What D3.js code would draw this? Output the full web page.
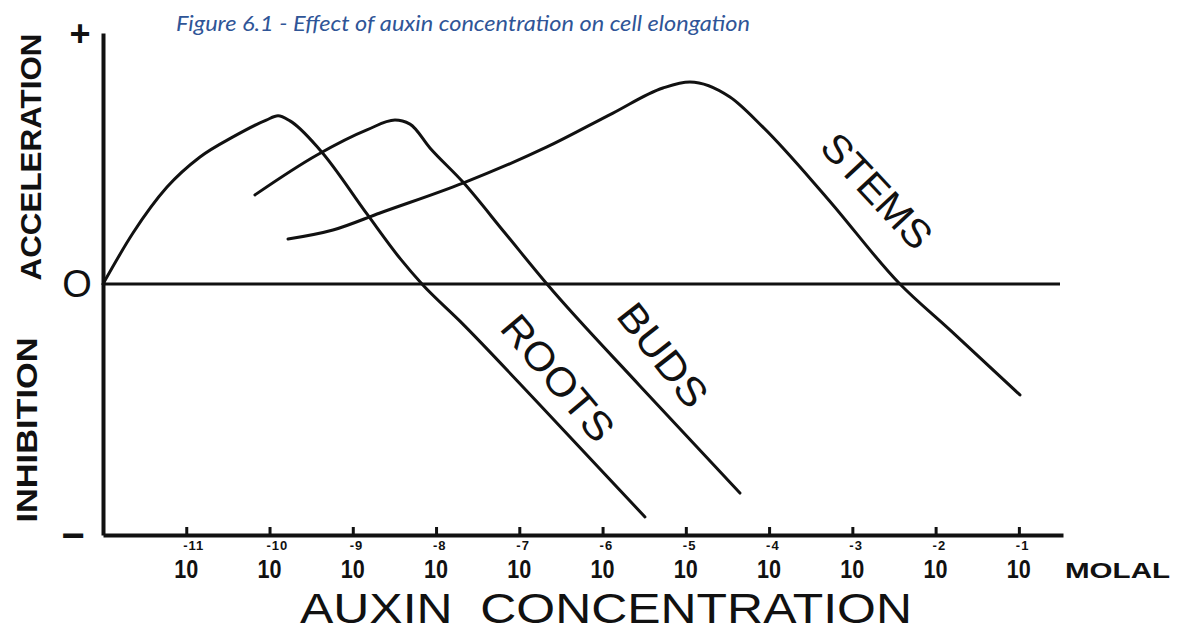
<!DOCTYPE html>
<html>
<head>
<meta charset="utf-8">
<script src="https://cdn.jsdelivr.net/npm/d3@7"></script>
<style>
  body { margin: 0; background: #fff; }
  svg { display: block; }
  .curve { fill: none; stroke: #111; stroke-width: 3; stroke-linejoin: round; stroke-linecap: round; }
  .lbl { font-family: "Liberation Sans", Arial, sans-serif; fill: #111; }
</style>
</head>
<body>
<div id="chart"></div>
<script>
// log10 of auxin concentration (molal) vs response (+ acceleration / - inhibition)
const exponents = [-11, -10, -9, -8, -7, -6, -5, -4, -3, -2, -1];

const rootsConc = [-12, -11.64, -11.231, -10.835, -10.439, -10.039, -9.898, -9.754, -9.394, -8.83, -8.433, -8.169, -7.713, -6.752, -5.491];
const rootsResp = [0, 0.203, 0.386, 0.506, 0.586, 0.653, 0.67, 0.65, 0.534, 0.279, 0.102, 0, -0.148, -0.482, -0.928];

const budsConc = [-10.175, -9.43, -8.83, -8.493, -8.313, -8.073, -7.677, -7.172, -6.668, -5.551, -4.35];
const budsResp = [0.355, 0.514, 0.614, 0.653, 0.637, 0.542, 0.406, 0.203, 0, -0.406, -0.833];

const stemsConc = [-9.778, -9.238, -8.673, -7.677, -6.668, -5.875, -5.275, -4.951, -4.47, -4.074, -3.305, -2.429, -1.828, -0.987];
const stemsResp = [0.179, 0.215, 0.283, 0.402, 0.546, 0.681, 0.781, 0.805, 0.745, 0.625, 0.343, 0, -0.183, -0.442];

const seriesNames = ['ROOTS', 'BUDS', 'STEMS'];

const width = 1178;
const height = 632;

// Set the ranges (axis runs a little past 10^-1)
const x = d3.scaleLinear().domain([-12, -0.47]).range([103, 1063]);
const y = d3.scaleLinear().domain([-1, 1]).range([535, 33]);

const svg = d3.select('#chart')
  .append('svg')
  .attr('width', width)
  .attr('height', height);

// Title
svg.append('text')
  .attr('x', 176)
  .attr('y', 31)
  .attr('textLength', 574)
  .attr('lengthAdjust', 'spacingAndGlyphs')
  .style('font-family', 'Lato, "Open Sans", sans-serif')
  .style('font-style', 'italic')
  .style('font-size', '21px')
  .style('fill', '#2f5597')
  .text('Figure 6.1 - Effect of auxin concentration on cell elongation');

// Zero line
svg.append('line')
  .attr('x1', x(-12)).attr('x2', 1060)
  .attr('y1', y(0)).attr('y2', y(0))
  .style('stroke', '#111')
  .style('stroke-width', 3);

// Y axis
const yAxis = d3.axisLeft(y).tickValues([]).tickSizeOuter(0);
svg.append('g')
  .attr('transform', `translate(${x(-12)},0)`)
  .call(yAxis)
  .call(g => g.select('.domain').style('stroke', '#111').style('stroke-width', 4));

// X axis with upward ticks
const xAxis = d3.axisBottom(x)
  .tickValues(exponents)
  .tickSize(-8)
  .tickSizeOuter(0)
  .tickFormat('');

svg.append('g')
  .attr('transform', `translate(0,${y(-1)})`)
  .call(xAxis)
  .call(g => g.select('.domain').style('stroke', '#111').style('stroke-width', 4))
  .call(g => g.selectAll('.tick line').style('stroke', '#111').style('stroke-width', 3));

// Tick labels: 10 with exponent above right
const tl = svg.append('g').attr('class', 'lbl');
exponents.forEach((e) => {
  tl.append('text')
    .attr('x', x(e) - 12)
    .attr('y', 578)
    .attr('textLength', 24)
    .attr('lengthAdjust', 'spacingAndGlyphs')
    .style('font-size', '26px')
    .style('font-weight', 'bold')
    .text('10');
  tl.append('text')
    .attr('x', x(e) - 3)
    .attr('y', 550)
    .style('font-size', '13px')
    .style('font-weight', 'bold')
    .style('letter-spacing', '1px')
    .text(`-${-e}`);
});

tl.append('text')
  .attr('x', 1065)
  .attr('y', 578)
  .attr('textLength', 105)
  .attr('lengthAdjust', 'spacingAndGlyphs')
  .style('font-size', '22px')
  .style('font-weight', 'bold')
  .text('MOLAL');

// Axis titles
tl.append('text')
  .attr('x', 300)
  .attr('y', 623)
  .attr('textLength', 612)
  .attr('lengthAdjust', 'spacingAndGlyphs')
  .attr('xml:space', 'preserve')
  .style('font-size', '42px')
  .text('AUXIN  CONCENTRATION');

tl.append('text')
  .attr('transform', 'translate(41,157) rotate(-90)')
  .attr('text-anchor', 'middle')
  .attr('textLength', 247)
  .attr('lengthAdjust', 'spacingAndGlyphs')
  .style('font-size', '29px')
  .style('font-weight', 'bold')
  .text('ACCELERATION');

tl.append('text')
  .attr('transform', 'translate(37,430) rotate(-90)')
  .attr('text-anchor', 'middle')
  .attr('textLength', 185)
  .attr('lengthAdjust', 'spacingAndGlyphs')
  .style('font-size', '29px')
  .style('font-weight', 'bold')
  .text('INHIBITION');

// Y tick symbols
const ySyms = [['+', 1, 36, 'bold', 80], ['O', 0, 38, 'normal', 77], ['\u2212', -1, 40, 'bold', 73]];
ySyms.forEach(([s, v, fs, fw, cx]) => {
  tl.append('text')
    .attr('x', cx)
    .attr('y', y(v))
    .attr('dy', '0.35em')
    .attr('text-anchor', 'middle')
    .style('font-size', `${fs}px`)
    .style('font-weight', fw)
    .text(s);
});

// Curves
const line = d3.line()
  .x(d => x(d[0]))
  .y(d => y(d[1]))
  .curve(d3.curveMonotoneX);

const series = [
  d3.zip(rootsConc, rootsResp),
  d3.zip(budsConc, budsResp),
  d3.zip(stemsConc, stemsResp),
];

svg.selectAll('path.curve')
  .data(series)
  .enter()
  .append('path')
  .attr('class', 'curve')
  .attr('d', line);

// Curve labels along the falling limbs
const labelPos = [
  { cx: 558, cy: 378, angle: 50, len: 152 },
  { cx: 663, cy: 355, angle: 52, len: 120 },
  { cx: 877, cy: 191, angle: 47, len: 142 },
];

seriesNames.forEach((name, i) => {
  const p = labelPos[i];
  tl.append('text')
    .attr('transform', `translate(${p.cx},${p.cy}) rotate(${p.angle})`)
    .attr('text-anchor', 'middle')
    .attr('dy', '0.35em')
    .attr('textLength', p.len)
    .attr('lengthAdjust', 'spacingAndGlyphs')
    .style('font-size', '40px')
    .text(name);
});
</script>
</body>
</html>
